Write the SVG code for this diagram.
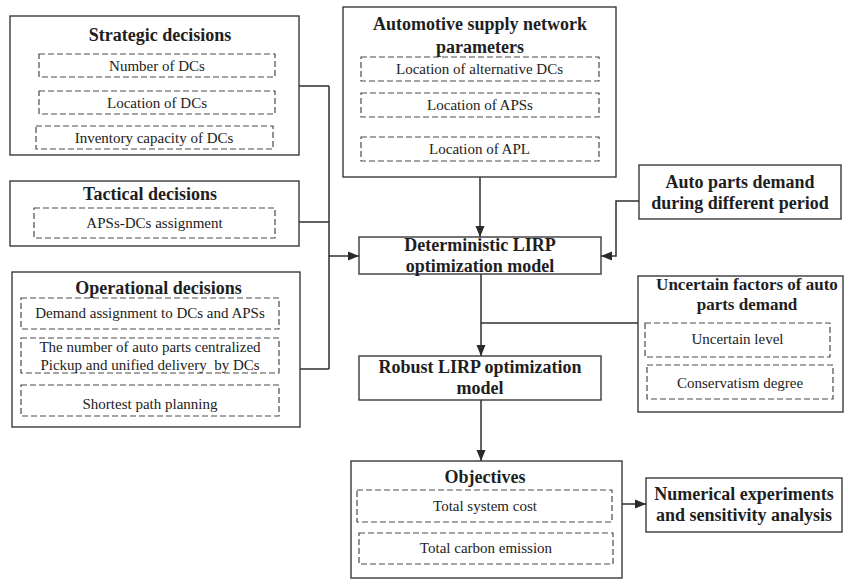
<svg xmlns="http://www.w3.org/2000/svg" width="852" height="580" viewBox="0 0 852 580">
  <defs>
    <marker id="arrow" markerUnits="userSpaceOnUse" markerWidth="12" markerHeight="12" viewBox="0 0 12 12" refX="11" refY="6" orient="auto">
      <path d="M0,1.5 L11,6 L0,10.5 Z" fill="#2a2a2a"/>
    </marker>
    <style>
      .box { fill: #ffffff; stroke: #3a3a3a; stroke-width: 1.4; }
      .dash { fill: none; stroke: #4a4a4a; stroke-width: 1.2; stroke-dasharray: 6 3; }
      .title { font-family: "Liberation Serif", "Times New Roman", serif; font-weight: bold; font-size: 18px; fill: #1e1e1e; text-anchor: middle; }
      .title.tight { font-size: 17px; }
      .item { font-family: "Liberation Serif", "Times New Roman", serif; font-size: 15px; fill: #222222; text-anchor: middle; white-space: pre; }
      .link { fill: none; stroke: #2f2f2f; stroke-width: 1.5; }
    </style>
  </defs>
  <rect width="852" height="580" fill="#ffffff"/>

  <!-- Connectors -->
  <g id="connectors">
    <path class="link" d="M299,86 H329 M299,222 H329 M300,369 H329 M329,86 V369"/>
    <path class="link" d="M329,256 H359" marker-end="url(#arrow)"/>
    <path class="link" d="M480,177 V237" marker-end="url(#arrow)"/>
    <path class="link" d="M639,201 H616 V256 H601" marker-end="url(#arrow)"/>
    <path class="link" d="M639,323 H481"/>
    <path class="link" d="M481,274 V356" marker-end="url(#arrow)"/>
    <path class="link" d="M481,400 V461" marker-end="url(#arrow)"/>
    <path class="link" d="M622,504 H646" marker-end="url(#arrow)"/>
  </g>

  <!-- Strategic decisions -->
  <g id="strategic">
    <rect class="box" x="10" y="16" width="289" height="139"/>
    <text class="title" x="160" y="41">Strategic decisions</text>
    <rect class="dash" x="39" y="54" width="236" height="23"/>
    <text class="item" x="157" y="70.5">Number of DCs</text>
    <rect class="dash" x="39" y="91" width="236" height="23"/>
    <text class="item" x="157" y="107.5">Location of DCs</text>
    <rect class="dash" x="36" y="126" width="237" height="23"/>
    <text class="item" x="154" y="142.5">Inventory capacity of DCs</text>
  </g>

  <!-- Tactical decisions -->
  <g id="tactical">
    <rect class="box" x="10" y="181" width="289" height="65"/>
    <text class="title" x="150" y="200">Tactical decisions</text>
    <rect class="dash" x="34" y="208" width="241" height="30"/>
    <text class="item" x="154.5" y="228">APSs-DCs assignment</text>
  </g>

  <!-- Operational decisions -->
  <g id="operational">
    <rect class="box" x="12" y="272" width="288" height="155"/>
    <text class="title" x="158.5" y="294">Operational decisions</text>
    <rect class="dash" x="21" y="298" width="258" height="31"/>
    <text class="item" x="150" y="318">Demand assignment to DCs and APSs</text>
    <rect class="dash" x="21" y="338" width="258" height="35"/>
    <text class="item" x="150" y="352">The number of auto parts centralized</text>
    <text class="item" x="150" y="370">Pickup and unified delivery  by DCs</text>
    <rect class="dash" x="21" y="385" width="258" height="31"/>
    <text class="item" x="150" y="409">Shortest path planning</text>
  </g>

  <!-- Automotive supply network parameters -->
  <g id="network-parameters">
    <rect class="box" x="343" y="7" width="273" height="170"/>
    <text class="title" x="480" y="30">Automotive supply network</text>
    <text class="title" x="480" y="53">parameters</text>
    <rect class="dash" x="361" y="57" width="238" height="24"/>
    <text class="item" x="479.5" y="74">Location of alternative DCs</text>
    <rect class="dash" x="361" y="93" width="238" height="24"/>
    <text class="item" x="480" y="110">Location of APSs</text>
    <rect class="dash" x="361" y="137" width="238" height="24"/>
    <text class="item" x="479.5" y="154">Location of APL</text>
  </g>

  <!-- Auto parts demand during different period -->
  <g id="demand-period">
    <rect class="box" x="639" y="165" width="202" height="54"/>
    <text class="title" x="740" y="188">Auto parts demand</text>
    <text class="title" x="740" y="209">during different period</text>
  </g>

  <!-- Deterministic LIRP optimization model -->
  <g id="deterministic">
    <rect class="box" x="359" y="237" width="242" height="37"/>
    <text class="title" x="480" y="251">Deterministic LIRP</text>
    <text class="title" x="480" y="272">optimization model</text>
  </g>

  <!-- Uncertain factors of auto parts demand -->
  <g id="uncertain-factors">
    <rect class="box" x="638" y="276" width="205" height="136"/>
    <text class="title tight" x="747" y="290">Uncertain factors of auto</text>
    <text class="title tight" x="747" y="310">parts demand</text>
    <rect class="dash" x="645" y="323" width="185" height="34"/>
    <text class="item" x="737.5" y="344">Uncertain level</text>
    <rect class="dash" x="647" y="365" width="186" height="34"/>
    <text class="item" x="740" y="388">Conservatism degree</text>
  </g>

  <!-- Robust LIRP optimization model -->
  <g id="robust">
    <rect class="box" x="359" y="356" width="242" height="44"/>
    <text class="title" x="480" y="373">Robust LIRP optimization</text>
    <text class="title" x="480" y="394">model</text>
  </g>

  <!-- Objectives -->
  <g id="objectives">
    <rect class="box" x="351" y="461" width="271" height="117"/>
    <text class="title" x="485" y="483">Objectives</text>
    <rect class="dash" x="357" y="490" width="255" height="32"/>
    <text class="item" x="485" y="511">Total system cost</text>
    <rect class="dash" x="359" y="533" width="254" height="31"/>
    <text class="item" x="486" y="553">Total carbon emission</text>
  </g>

  <!-- Numerical experiments and sensitivity analysis -->
  <g id="numerical">
    <rect class="box" x="646" y="478" width="196" height="54"/>
    <text class="title" x="744" y="500">Numerical experiments</text>
    <text class="title" x="744" y="521">and sensitivity analysis</text>
  </g>
</svg>
